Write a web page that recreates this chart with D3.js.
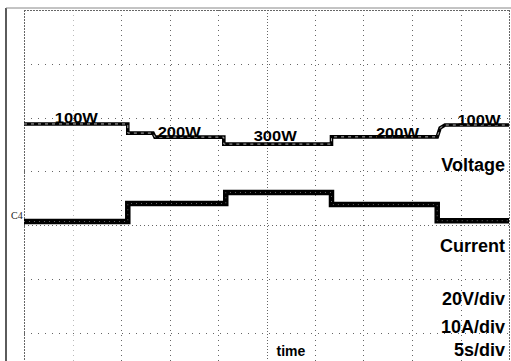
<!DOCTYPE html>
<html>
<head>
<meta charset="utf-8">
<script src="https://cdn.jsdelivr.net/npm/d3@7"></script>
<style>
body { margin: 0; background: #fff; }
svg { display: block; }
text { font-family: "Liberation Sans", Arial, sans-serif; font-weight: bold; fill: #000; }
</style>
</head>
<body>
<div id="scope"></div>
<script>
// time in s, 5 s/div, 10 divisions
var timeTicks = [0, 5, 10, 15, 20, 25, 30, 35, 40, 45, 50];
// vertical divisions (screen cut at the bottom)
var divTicks = [-4, -3, -2, -1, 0, 1, 2, 3, 4];

// voltage trace, V (20 V/div, ground on centre line)
var voltTime  = [0, 10.7, 10.7, 13.3, 13.5, 20.6, 20.6, 31.7, 31.7, 42.6, 42.9, 43.4, 50];
var voltValue = [37.6, 37.6, 34.2, 34.2, 32.7, 32.7, 30.1, 30.1, 32.8, 32.8, 36.1, 37.2, 37.2];

// current trace, A (10 A/div, ground on centre line)
var curTime  = [0, 10.7, 10.7, 20.8, 20.8, 31.7, 31.7, 42.6, 42.6, 50];
var curValue = [0.65, 0.65, 4.0, 4.0, 6.05, 6.05, 3.8, 3.8, 0.8, 0.8];

// load labels written on the voltage trace
var powerLabels = ["100W", "200W", "300W", "200W", "100W"];
var labelTime   = [5.4, 16.0, 25.9, 38.5, 46.9];
var labelVolt   = [38.0, 32.7, 31.2, 32.3, 37.2];

var rightLabels = ["Voltage", "Current", "20V/div", "10A/div", "5s/div"];
var rightY      = [171, 252, 305, 333, 356];

var W = 511, H = 361;
var svg = d3.select("#scope").append("svg").attr("width", W).attr("height", H);

var x = d3.scaleLinear().domain([0, 50]).range([24, 509]);
var yDiv = d3.scaleLinear().domain([-4, 4]).range([440, 10]);
var yVolt = d3.scaleLinear().domain([-80, 80]).range([440, 10]);
var yCur = d3.scaleLinear().domain([-40, 40]).range([440, 10]);

// outer frame
svg.append("line").attr("x1", 6).attr("x2", 6).attr("y1", 8).attr("y2", H)
  .style("stroke", "#333").style("stroke-width", 1.6);
svg.append("line").attr("x1", 6).attr("x2", W).attr("y1", 8).attr("y2", 8)
  .style("stroke", "#888").style("stroke-width", 1);

// grid
var grid = svg.append("g");
grid.selectAll("line.v").data(timeTicks).enter().append("line")
  .attr("class", "v")
  .attr("x1", function(d){ return Math.round(x(d)) + 0.5; })
  .attr("x2", function(d){ return Math.round(x(d)) + 0.5; })
  .attr("y1", yDiv(4)).attr("y2", H)
  .style("stroke", function(d){ return (d == 5) ? "#bbb" : "#666"; })
  .style("stroke-width", 1)
  .style("stroke-dasharray", function(d){
    if(d == 0 || d == 50) return "2,1";
    if(d == 25) return "1,2";
    return "1,4";
  });
grid.selectAll("line.h").data(divTicks).enter().append("line")
  .attr("class", "h")
  .attr("x1", x(0)).attr("x2", x(50))
  .attr("y1", function(d){ return Math.round(yDiv(d)) + 0.5; })
  .attr("y2", function(d){ return Math.round(yDiv(d)) + 0.5; })
  .style("stroke", "#666")
  .style("stroke-width", 1)
  .style("stroke-dasharray", function(d){
    if(d == 4) return "2,1";
    if(d == 0) return "1,3";
    return "1,6";
  });

// channel marker
svg.append("text").attr("x", 11).attr("y", 219)
  .style("font-size", "10px").style("font-weight", "normal")
  .style("font-family", "'Liberation Serif', serif").style("fill", "#222")
  .text("C4");

// traces
var voltLine = d3.line()
  .x(function(d, i){ return x(voltTime[i]); })
  .y(function(d){ return yVolt(d); });
var curLine = d3.line()
  .x(function(d, i){ return x(curTime[i]); })
  .y(function(d){ return yCur(d); });

svg.append("path").attr("d", voltLine(voltValue))
  .attr("fill", "none").style("stroke", "#000").style("stroke-width", 3.6);
svg.append("path").attr("d", voltLine(voltValue))
  .attr("fill", "none").style("stroke", "#ddd").style("stroke-width", 0.8)
  .style("stroke-dasharray", "3,4");

svg.append("path").attr("d", curLine(curValue))
  .attr("fill", "none").style("stroke", "#000").style("stroke-width", 5.5);
svg.append("path").attr("d", curLine(curValue))
  .attr("fill", "none").style("stroke", "#666").style("stroke-width", 1)
  .style("stroke-dasharray", "1,4");

// power labels
svg.selectAll("text.pw").data(powerLabels).enter().append("text")
  .attr("class", "pw")
  .attr("x", function(d, i){ return x(labelTime[i]); })
  .attr("y", function(d, i){ return yVolt(labelVolt[i]); })
  .attr("text-anchor", "middle")
  .attr("textLength", 43)
  .attr("lengthAdjust", "spacingAndGlyphs")
  .style("font-size", "15px")
  .text(function(d){ return d; });

// channel / scale labels
svg.selectAll("text.rl").data(rightLabels).enter().append("text")
  .attr("class", "rl")
  .attr("x", 505)
  .attr("y", function(d, i){ return rightY[i]; })
  .attr("text-anchor", "end")
  .style("font-size", "18px")
  .text(function(d){ return d; });

svg.append("text").attr("x", x(25) + 10).attr("y", 356)
  .style("font-size", "14px").text("time");
</script>
</body>
</html>
